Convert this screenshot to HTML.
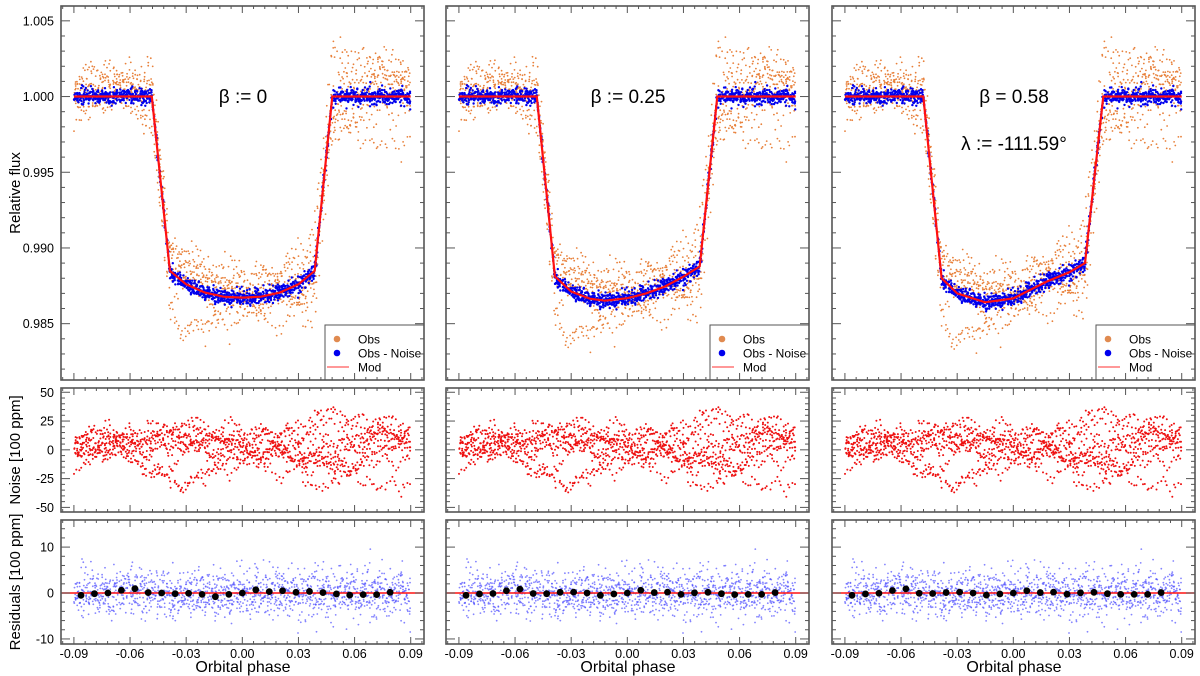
<!DOCTYPE html>
<html><head><meta charset="utf-8"><style>
html,body{margin:0;padding:0;background:#fff;}
svg{display:block;font-family:"Liberation Sans",sans-serif;}
</style></head><body>
<svg id="chart" width="1200" height="676" viewBox="0 0 1200 676" xmlns="http://www.w3.org/2000/svg"></svg>
<script>
// ---- data ----
const modelPhase1=[-0.09,-0.0484,-0.0387,-0.03,-0.02,-0.01,0,0.01,0.02,0.03,0.0387,0.0481,0.09];
const modelFlux1=[1,1,0.98849,0.98760,0.98705,0.98678,0.98672,0.98678,0.98705,0.98760,0.98849,1,1];
const modelPhase2=[-0.09,-0.0484,-0.0387,-0.03,-0.02,-0.012,0,0.01,0.02,0.03,0.0387,0.0481,0.09];
const modelFlux2=[1,1,0.98812,0.98712,0.98665,0.98652,0.98668,0.98700,0.98745,0.98810,0.98878,1,1];
const modelPhase3=[-0.09,-0.0481,-0.0383,-0.03,-0.0151,0,0.0178,0.03,0.0383,0.0481,0.09];
const modelFlux3=[1,1,0.98800,0.98700,0.98641,0.98667,0.98778,0.98840,0.98900,1,1];
const binPhase=[-0.0862,-0.0790,-0.0718,-0.0646,-0.0574,-0.0503,-0.0431,-0.0359,-0.0287,-0.0215,-0.0144,-0.0072,0,0.0072,0.0144,0.0215,0.0287,0.0359,0.0431,0.0503,0.0574,0.0646,0.0718,0.0790];
const binRes1=[-0.5,-0.15,0,0.6,0.95,0.1,0,-0.15,-0.05,-0.3,-0.8,-0.3,0,0.7,0.3,0.5,0.15,0.35,0.1,-0.2,-0.45,-0.35,-0.35,0.15];
const binRes2=[-0.5,-0.2,-0.1,0.5,0.85,-0.1,-0.15,0.15,0.2,0,-0.5,-0.2,0,0.6,0.1,0.2,-0.3,0.05,0.15,-0.15,-0.35,-0.3,-0.3,0.1];
const binRes3=[-0.5,-0.2,-0.05,0.55,0.9,-0.05,-0.1,0.1,0.2,0,-0.45,-0.2,0,0.5,0.1,0.2,-0.25,0.05,0.15,-0.15,-0.3,-0.3,-0.3,0.1];
const xTicks=[-0.09,-0.06,-0.03,0,0.03,0.06,0.09];
const xTickLabels=["-0.09","-0.06","-0.03","0.00","0.03","0.06","0.09"];
const fluxTicks=[1.005,1.000,0.995,0.990,0.985];
const fluxTickLabels=["1.005","1.000","0.995","0.990","0.985"];
const noiseTicks=[50,25,0,-25,-50];
const resTicks=[10,0,-10];
const labels1=["β := 0"],labels2=["β := 0.25"],labels3=["β = 0.58","λ := -111.59°"];

// ---- layout ----
const NS="http://www.w3.org/2000/svg";
const svg=document.getElementById('chart');
function mk(tag,attrs,parent){const e=document.createElementNS(NS,tag);for(const k in attrs)e.setAttribute(k,attrs[k]);(parent||svg).appendChild(e);return e;}
const colLeft=[61,446,832],W=363;
const xDom=[-0.0969,0.0971];
const P={top:{y0:6,y1:380,d0:1.00598,d1:0.98128},mid:{y0:388,y1:512,d0:53.7,d1:-54},bot:{y0:520,y1:644,d0:15.9,d1:-11.1}};
function xs(c,v){return colLeft[c]+(v-xDom[0])/(xDom[1]-xDom[0])*W;}
function ys(p,v){return p.y0+(v-p.d0)/(p.d1-p.d0)*(p.y1-p.y0);}
function interp(px,py,x){for(let i=0;i<px.length-1;i++){if(x<=px[i+1]){const t=(x-px[i])/(px[i+1]-px[i]);return py[i]+t*(py[i+1]-py[i]);}}return py[py.length-1];}

// seeded generator for the scatter clouds (visual texture only)
let seed=12345;function rnd(){seed=(seed*1103515245+12345)%2147483648;return seed/2147483648;}
function gauss(){let u=rnd()||1e-9,v=rnd();return Math.sqrt(-2*Math.log(u))*Math.cos(2*Math.PI*v);}
const ptsPhase=[],ptsNoise=[],ptsRes=[];
const visits=10,perVisit=150;
for(let k=0;k<visits;k++){let w=gauss()*10;for(let i=0;i<perVisit;i++){const ph=-0.09+0.18*(i+rnd()*0.9)/perVisit;w=w*0.965+gauss()*3.6;ptsPhase.push(Math.min(0.09,ph));ptsNoise.push(w+gauss()*1.2);ptsRes.push(gauss()*2.5);}}

const models=[[modelPhase1,modelFlux1],[modelPhase2,modelFlux2],[modelPhase3,modelFlux3]];
const bins=[binRes1,binRes2,binRes3];
const annots=[labels1,labels2,labels3];

function ticks(c,p,majors,minorStep,dom,isX){
  const g=mk('g',{stroke:'#555','stroke-width':1});
  
  
  const L=colLeft[c],R=L+W;
  if(isX){
    for(let v=-0.096;v<=0.0965;v+=minorStep){const x=xs(c,v);const maj=majors.some(m=>Math.abs(m-v)<1e-6);const len=maj?7:3;
      mk('line',{x1:x,x2:x,y1:p.y1,y2:p.y1-len},g);mk('line',{x1:x,x2:x,y1:p.y0,y2:p.y0+len},g);}
  }else{
    const lo=Math.min(p.d0,p.d1),hi=Math.max(p.d0,p.d1);
    const start=Math.ceil(lo/minorStep-1e-6)*minorStep;
    for(let v=start;v<=hi+1e-9;v+=minorStep){const y=ys(p,v);const maj=majors.some(m=>Math.abs(m-v)<minorStep/10);const len=maj?9:4;
      mk('line',{x1:L,x2:L+len,y1:y,y2:y},g);mk('line',{x1:R,x2:R-len,y1:y,y2:y},g);}
  }
}

for(let c=0;c<3;c++){
  const L=colLeft[c],R=L+W;
  const [mp,mf]=models[c];
  const top=P.top;
  const gObs=mk('g',{fill:'#e8803a'});
  const gBlue=mk('g',{fill:'#0000ee'});
  for(let i=0;i<ptsPhase.length;i++){const m=interp(mp,mf,ptsPhase[i]);
    mk('circle',{cx:xs(c,ptsPhase[i]).toFixed(1),cy:ys(top,m+(ptsNoise[i]+ptsRes[i])*1e-4).toFixed(1),r:0.9},gObs);}
  for(let i=0;i<ptsPhase.length;i++){const m=interp(mp,mf,ptsPhase[i]);
    mk('circle',{cx:xs(c,ptsPhase[i]).toFixed(1),cy:ys(top,m+ptsRes[i]*1e-4).toFixed(1),r:1.2},gBlue);}
  const line=mk('polyline',{fill:'none',stroke:'#ff1010','stroke-width':2.2,points:mp.map((v,i)=>xs(c,v).toFixed(1)+','+ys(top,mf[i]).toFixed(1)).join(' ')});
  
  annots[c].forEach((t,j)=>{const e=mk('text',{x:L+182,y:103+j*47,'font-size':19,'text-anchor':'middle',fill:'#000'});e.textContent=t;
    });
  const lg=mk('g',{});
  mk('rect',{x:L+264,y:325,width:W-264,height:top.y1-325,fill:'#fff',stroke:'#555','stroke-width':1},lg);
  const items=[['Obs','#e08a50','c'],['Obs - Noise','#0000ee','c'],['Mod','#ff3030','l']];
  items.forEach((it,j)=>{const y=339+j*14;
    if(it[2]==='c')mk('circle',{cx:L+276,cy:y,r:3.3,fill:it[1]},lg);else mk('line',{x1:L+266,x2:L+288,y1:y,y2:y,stroke:it[1],'stroke-width':1},lg);
    const t=mk('text',{x:L+297,y:y+4.5,'font-size':12,fill:'#000'},lg);t.textContent=it[0];
    });
  const mid=P.mid;
  const gN=mk('g',{fill:'#ee1010'});
  for(let i=0;i<ptsPhase.length;i++)mk('circle',{cx:xs(c,ptsPhase[i]).toFixed(1),cy:ys(mid,ptsNoise[i]).toFixed(1),r:1},gN);
  const bot=P.bot;
  const gR=mk('g',{fill:'#5050ff','fill-opacity':0.7});
  for(let i=0;i<ptsPhase.length;i++)mk('circle',{cx:xs(c,ptsPhase[i]).toFixed(1),cy:ys(bot,ptsRes[i]).toFixed(1),r:0.9},gR);
  const zl=mk('line',{x1:L,x2:R,y1:ys(bot,0),y2:ys(bot,0),stroke:'#ff1010','stroke-width':1.5});
  
  const gB=mk('g',{fill:'#000'});
  binPhase.forEach((ph,i)=>mk('circle',{cx:xs(c,ph),cy:ys(bot,bins[c][i]),r:3.4},gB));
  [['top',top],['mid',mid],['bot',bot]].forEach(([n,p])=>{
    const f=mk('rect',{x:L,y:p.y0,width:W,height:p.y1-p.y0,fill:'none',stroke:'#555','stroke-width':1.6});
    
    ticks(c,p,xTicks,0.006,xDom,true);
  });
  ticks(c,top,fluxTicks,0.001,null,false);
  ticks(c,mid,noiseTicks,5,null,false);
  ticks(c,bot,resTicks,2,null,false);
  xTicks.forEach((v,i)=>{const t=mk('text',{x:xs(c,v),y:658,'font-size':12.5,'text-anchor':'middle',fill:'#000'});t.textContent=xTickLabels[i];
    });
  const xt=mk('text',{x:L+182,y:672,'font-size':16,'text-anchor':'middle',fill:'#000'});xt.textContent='Orbital phase';
  
}
fluxTicks.forEach((v,i)=>{const t=mk('text',{x:54,y:ys(P.top,v)+4.5,'font-size':12.5,'text-anchor':'end',fill:'#000'});t.textContent=fluxTickLabels[i];
  });
noiseTicks.forEach(v=>{const t=mk('text',{x:54,y:ys(P.mid,v)+4.5,'font-size':12.5,'text-anchor':'end',fill:'#000'});t.textContent=String(v);
  });
resTicks.forEach(v=>{const t=mk('text',{x:54,y:ys(P.bot,v)+4.5,'font-size':12.5,'text-anchor':'end',fill:'#000'});t.textContent=String(v);
  });
[['Relative flux',193,'y-axis-title-flux'],['Noise [100 ppm]',450,'y-axis-title-noise'],['Residuals [100 ppm]',582,'y-axis-title-residuals']].forEach(([s,y,n])=>{
  const t=mk('text',{x:0,y:0,'font-size':15,'text-anchor':'middle',fill:'#000',transform:'translate(20,'+y+') rotate(-90)'});t.textContent=s;
  });
</script>
</body></html>
